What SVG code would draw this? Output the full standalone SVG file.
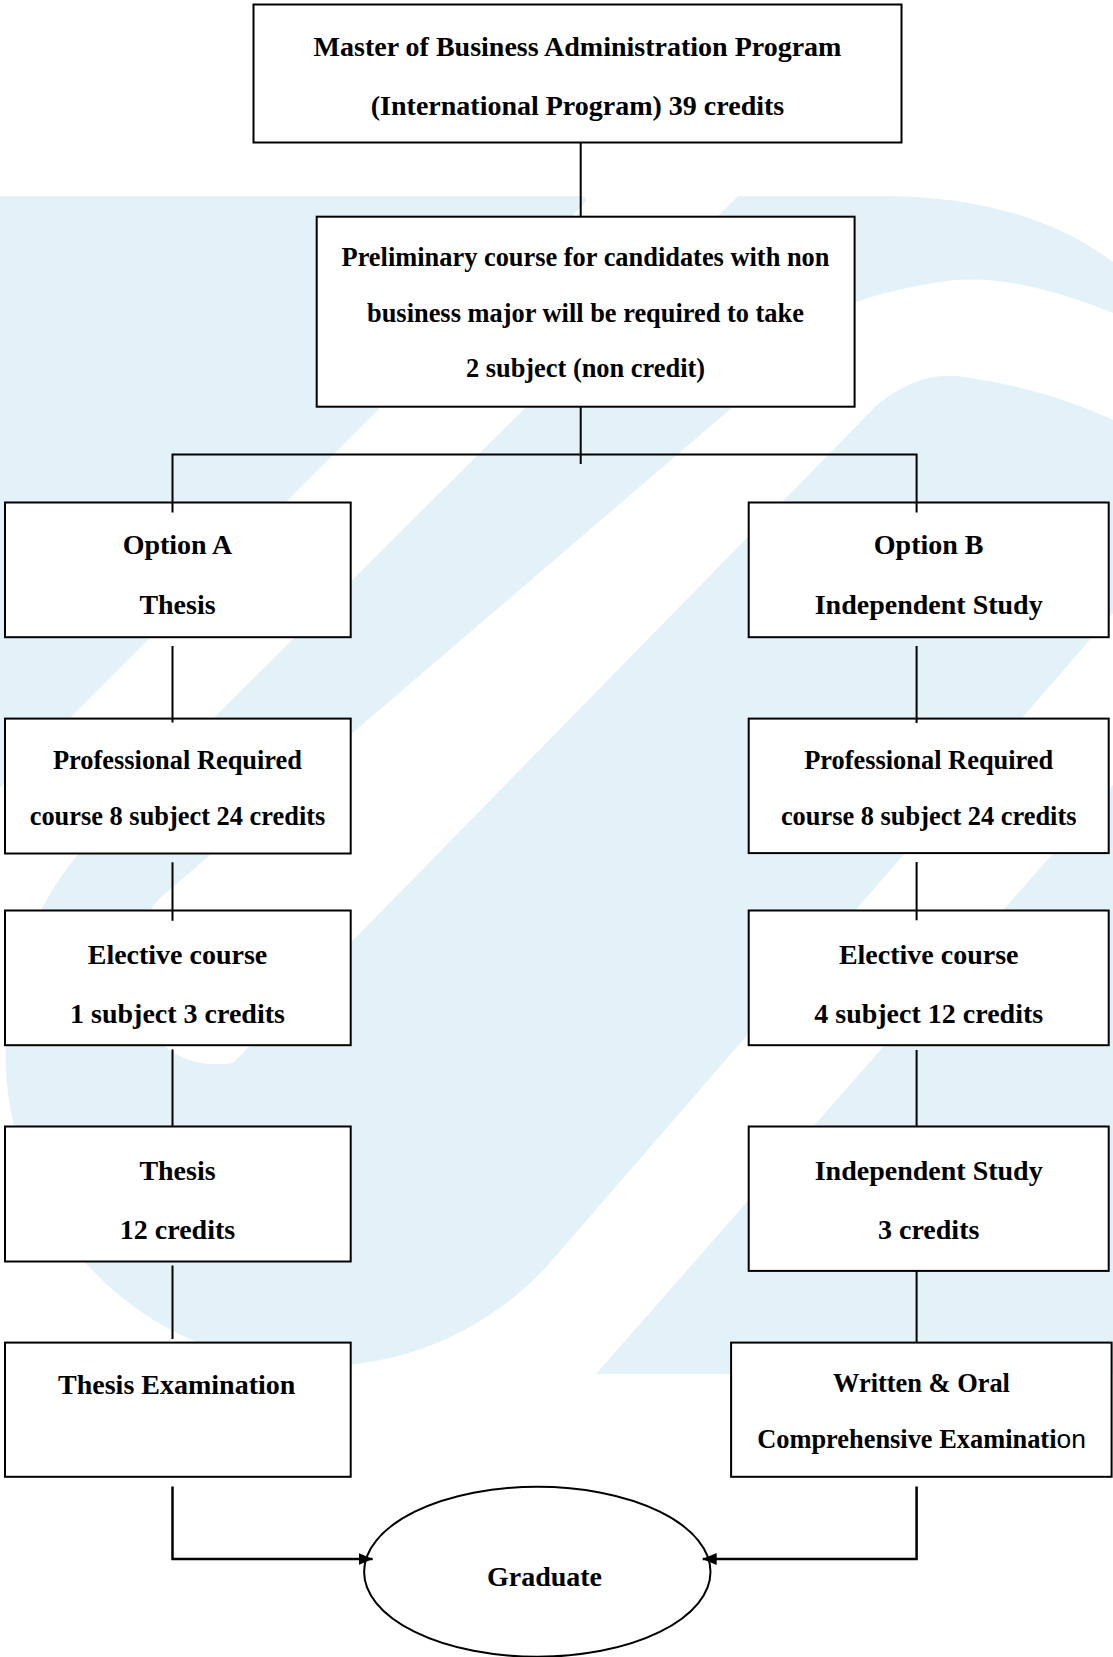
<svg xmlns="http://www.w3.org/2000/svg" width="1113" height="1657" viewBox="0 0 1113 1657">
<style>
.bg{fill:#ffffff}
.wm{fill:#e3f1f9}
.box{fill:#ffffff;stroke:#000000;stroke-width:2}
.t{font-family:"Liberation Serif","Times New Roman",serif;font-weight:bold;text-anchor:middle;fill:#000000}
.f28{font-size:28px}
.f26{font-size:26.4px}
.sans{font-family:"Liberation Sans",Arial,sans-serif;font-weight:normal}
.con{fill:none;stroke:#000000;stroke-width:2}
.arr{fill:none;stroke:#000000;stroke-width:2.5}
</style>
<defs>
<marker id="ah" markerUnits="userSpaceOnUse" viewBox="0 0 14 12" refX="14" refY="6" markerWidth="14" markerHeight="12" orient="auto">
<path d="M0,0 L14,6 L0,12 Z" fill="#000000"/>
</marker>
</defs>
<rect class="bg" x="0" y="0" width="1113" height="1657"/>
<g id="watermark">
<path class="wm" d="M0,196 H578 Q592,196 582,206 L0,788 Z"/>
<path class="wm" d="M738,196 H880 C985,196 1060,222 1113,262 V313 C1040,283 985,276 947,281 C905,287 875,295 854,303 L160,898 C112,948 128,1078 233,1063 L876,406 C905,381 935,372 964,377 C1020,385 1070,400 1113,420 V613 L545.5,1267.7 A312,312 0 1 1 90,841 Z"/>
<path class="wm" d="M1113,785 V1374 H596 Z"/>
</g>
<g id="n-top">
<rect class="box" x="253.5" y="4.5" width="648" height="138"/>
<text class="t f28" x="577.5" y="56">Master of Business Administration Program</text>
<text class="t f28" x="577.5" y="115">(International Program) 39 credits</text>
</g>
<g id="n-prelim">
<rect class="box" x="316.7" y="216.7" width="537.9" height="190"/>
<text class="t f26" x="585.5" y="265.7">Preliminary course for candidates with non</text>
<text class="t f26" x="585.5" y="322.3">business major will be required to take</text>
<text class="t f26" x="585.5" y="377.3">2 subject (non credit)</text>
</g>
<g id="n-optA">
<rect class="box" x="5" y="502.5" width="345.7" height="134.7"/>
<text class="t f28" x="177.5" y="554.3">Option A</text>
<text class="t f28" x="177.5" y="614">Thesis</text>
</g>
<g id="n-optB">
<rect class="box" x="748.7" y="502.5" width="360" height="134.7"/>
<text class="t f28" x="928.7" y="554.3">Option B</text>
<text class="t f28" x="928.7" y="614">Independent Study</text>
</g>
<g id="n-profA">
<rect class="box" x="5" y="718.6" width="345.7" height="134.9"/>
<text class="t f26" x="177.5" y="769">Professional Required</text>
<text class="t f26" x="177.5" y="824.5">course 8 subject 24 credits</text>
</g>
<g id="n-profB">
<rect class="box" x="748.7" y="718.6" width="360" height="134.5"/>
<text class="t f26" x="928.7" y="769">Professional Required</text>
<text class="t f26" x="928.7" y="824.5">course 8 subject 24 credits</text>
</g>
<g id="n-elecA">
<rect class="box" x="5" y="910.5" width="345.7" height="134.7"/>
<text class="t f28" x="177.5" y="964.2">Elective course</text>
<text class="t f28" x="177.5" y="1023">1 subject 3 credits</text>
</g>
<g id="n-elecB">
<rect class="box" x="748.7" y="910.5" width="360" height="134.7"/>
<text class="t f28" x="928.7" y="964.2">Elective course</text>
<text class="t f28" x="928.7" y="1023">4 subject 12 credits</text>
</g>
<g id="n-thesisA">
<rect class="box" x="5" y="1126.5" width="345.7" height="135"/>
<text class="t f28" x="177.5" y="1180">Thesis</text>
<text class="t f28" x="177.5" y="1238.8">12 credits</text>
</g>
<g id="n-indepB">
<rect class="box" x="748.7" y="1126.5" width="360" height="144.4"/>
<text class="t f28" x="928.7" y="1179.5">Independent Study</text>
<text class="t f28" x="928.7" y="1238.5">3 credits</text>
</g>
<g id="n-thesisExam">
<rect class="box" x="5" y="1342.6" width="345.7" height="134.2"/>
<text class="t f28" x="176.7" y="1393.5">Thesis Examination</text>
</g>
<g id="n-written">
<rect class="box" x="731.1" y="1342.6" width="380.5" height="134.2"/>
<text class="t f26" x="921.5" y="1392">Written &amp; Oral</text>
<text class="t f26" x="921.5" y="1448">Comprehensive Examinati<tspan class="sans">on</tspan></text>
</g>
<g id="n-graduate">
<ellipse class="box" cx="537.3" cy="1571.8" rx="173.2" ry="85"/>
<text class="t f28" x="544.5" y="1585.5">Graduate</text>
</g>
<g id="connectors">
<path class="con" d="M580.7,142.5 V216.7"/>
<path class="con" d="M580.7,406.7 V464"/>
<path class="con" d="M172.5,512.6 V454.5 H916.6 V512.6"/>
<path class="con" d="M172.5,646 V722.5"/>
<path class="con" d="M916.6,646 V723"/>
<path class="con" d="M172.5,862.3 V920.8"/>
<path class="con" d="M916.6,862 V920.3"/>
<path class="con" d="M172.5,1049.4 V1126.5"/>
<path class="con" d="M916.6,1050 V1126.6"/>
<path class="con" d="M172.5,1265.5 V1339"/>
<path class="con" d="M916.6,1271 V1342.6"/>
<path class="arr" d="M172.5,1486.6 V1559 H372.7" marker-end="url(#ah)"/>
<path class="arr" d="M916.6,1486.6 V1559 H702.7" marker-end="url(#ah)"/>
</g>
</svg>
